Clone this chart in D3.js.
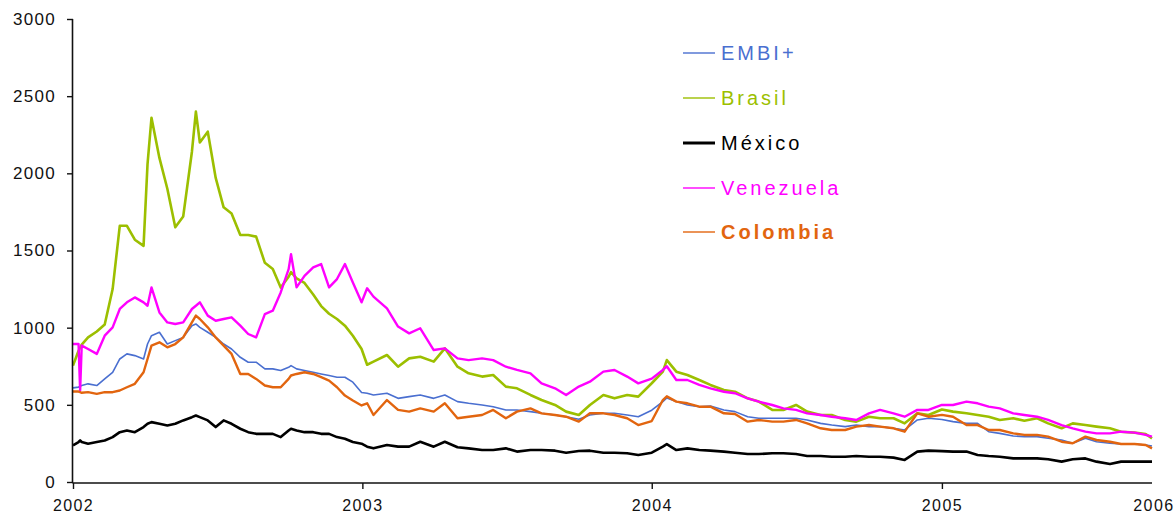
<!DOCTYPE html>
<html>
<head>
<meta charset="utf-8">
<script src="https://cdn.jsdelivr.net/npm/d3@7"></script>
<style>
  html, body { margin: 0; padding: 0; background: #ffffff; }
  svg { display: block; font-family: "Liberation Sans", Arial, sans-serif; }
</style>
</head>
<body>
<svg id="chart" width="1175" height="516"></svg>
<script>
// ---------- DATA ----------
const dates = [
  "2002-01-01","2002-01-08","2002-01-10","2002-01-12","2002-01-20","2002-01-31","2002-02-10","2002-02-20","2002-03-01","2002-03-10","2002-03-20","2002-03-31","2002-04-05","2002-04-10","2002-04-20","2002-04-30","2002-05-10","2002-05-20","2002-05-31","2002-06-05","2002-06-10","2002-06-20","2002-06-30","2002-07-10","2002-07-20","2002-07-31","2002-08-10","2002-08-20","2002-08-31","2002-09-10","2002-09-20","2002-09-30","2002-10-03","2002-10-10","2002-10-20","2002-10-31","2002-11-10","2002-11-20","2002-11-30","2002-12-10","2002-12-20","2002-12-31",
  "2003-01-07","2003-01-15","2003-02-01","2003-02-15","2003-03-01","2003-03-15","2003-04-01","2003-04-15","2003-05-01","2003-05-15","2003-06-01","2003-06-15","2003-07-01","2003-07-15","2003-08-01","2003-08-15","2003-09-01","2003-09-15","2003-10-01","2003-10-15","2003-11-01","2003-11-15","2003-12-01","2003-12-15",
  "2004-01-01","2004-01-15","2004-01-20","2004-02-01","2004-02-15","2004-03-01","2004-03-15","2004-04-01","2004-04-15","2004-05-01","2004-05-15","2004-06-01","2004-06-15","2004-07-01","2004-07-15","2004-08-01","2004-08-15","2004-09-01","2004-09-15","2004-10-01","2004-10-15","2004-11-01","2004-11-15","2004-12-01","2004-12-15",
  "2005-01-01","2005-01-15","2005-02-01","2005-02-15","2005-03-01","2005-03-15","2005-04-01","2005-04-15","2005-05-01","2005-05-15","2005-06-01","2005-06-15","2005-07-01","2005-07-15","2005-08-01","2005-08-15","2005-09-01","2005-09-15","2005-09-23"
];

const embi = [
  610,615,620,625,636,625,668,711,797,830,819,797,894,948,970,894,916,937,1013,1024,1002,970,937,894,862,808,776,776,733,733,722,743,754,733,722,711,700,690,679,679,647,580,
  575,564,575,542,553,564,542,564,521,510,499,488,467,467,456,445,434,423,406,434,445,445,434,423,
  465,521,545,521,499,488,492,467,456,423,413,413,413,413,402,380,369,359,369,359,359,348,337,402,413,
  405,391,380,380,326,315,298,294,294,283,272,251,283,261,251,246,246,240,233
];

const brasil = [
  754,850,870,890,937,975,1020,1250,1660,1660,1570,1530,2060,2360,2100,1900,1650,1720,2140,2400,2200,2270,1970,1780,1740,1600,1600,1590,1420,1380,1260,1330,1360,1320,1290,1215,1140,1090,1056,1013,948,862,
  760,780,823,747,801,812,780,866,747,704,683,693,618,607,564,531,499,456,434,499,564,542,564,553,
  640,715,790,715,693,661,629,596,585,542,521,467,467,499,456,434,434,402,391,423,413,413,380,445,434,
  470,456,445,434,423,402,413,397,413,380,348,380,369,359,348,326,320,311,283
];

const mexico = [
  237,259,269,259,248,259,269,291,323,334,323,356,377,388,377,366,377,399,420,431,420,399,356,399,377,345,323,312,312,312,291,334,345,334,323,323,312,312,291,280,259,248,
  229,218,240,229,229,261,229,261,225,218,207,207,218,197,207,207,203,190,201,203,190,190,186,175,
  190,229,245,207,218,207,203,197,190,181,181,186,186,181,168,168,164,164,168,164,164,158,143,197,203,
  200,197,197,175,168,164,153,153,153,147,132,147,153,132,117,132,132,132,132
];

const venezuela = [
  894,894,593,884,862,830,948,1002,1121,1164,1196,1164,1142,1261,1099,1034,1024,1034,1121,1142,1164,1078,1045,1056,1067,1013,959,937,1088,1110,1228,1379,1476,1261,1336,1390,1412,1261,1315,1412,1293,1164,
  1255,1201,1125,1007,963,996,855,866,801,790,801,790,747,726,704,639,607,564,618,650,715,726,683,639,
  670,726,750,661,661,629,607,585,575,542,521,499,477,467,445,434,423,413,402,445,467,445,423,467,467,
  499,499,521,510,488,477,445,434,423,402,369,348,326,315,315,326,320,305,294
];

const colombia = [
  586,586,582,578,582,571,582,582,593,614,636,711,797,884,905,873,894,937,1034,1078,1056,1002,937,884,830,700,700,668,625,614,614,668,690,700,711,700,679,657,614,560,528,496,
  510,434,531,467,456,477,456,510,413,423,434,467,413,456,477,445,434,423,391,445,445,434,413,369,
  395,531,555,521,510,488,488,445,441,391,402,391,391,402,380,348,337,337,359,369,359,348,326,445,423,
  435,423,369,369,337,337,315,305,305,294,261,251,294,272,261,246,246,240,218
];

const seriesNames = ["EMBI+", "Brasil", "México", "Venezuela", "Colombia"];
const seriesColors = ["#4a6fd0", "#9cbf00", "#000000", "#ff00ff", "#e2650f"];
const seriesWidths = [1.6, 2.6, 2.6, 2.4, 2.4];
const seriesValues = [embi, brasil, mexico, venezuela, colombia];

const yTicks = [0, 500, 1000, 1500, 2000, 2500, 3000];
const xTickDates = ["2002-01-01", "2003-01-01", "2004-01-01", "2005-01-01", "2005-09-23"];
const xTickLabels = ["2002", "2003", "2004", "2005", "2006"];

// ---------- DRAWING ----------
(function () {
  const parse = d3.timeParse("%Y-%m-%d");
  const dateObjs = dates.map(parse);

  const svg = d3.select("#chart");
  const pLeft = 73, pRight = 1152, pTop = 19, pBottom = 482;

  const x = d3.scaleTime()
    .domain([parse("2002-01-01"), parse("2005-09-23")])
    .range([pLeft, pRight]);
  const y = d3.scaleLinear().domain([0, 3000]).range([pBottom, pTop]);

  const line = d3.line()
    .x((d, i) => x(dateObjs[i]))
    .y(d => y(d))
    .curve(d3.curveLinear);

  const g = svg.append("g");
  seriesValues.forEach((vals, k) => {
    g.append("path")
      .datum(vals)
      .attr("d", line)
      .attr("fill", "none")
      .attr("stroke", seriesColors[k])
      .attr("stroke-width", seriesWidths[k])
      .attr("stroke-linejoin", "round");
  });

  // Y axis
  const yAxis = d3.axisLeft(y).tickValues(yTicks).tickSize(6).tickPadding(11).tickFormat(d3.format("d"));
  const gy = svg.append("g").attr("transform", `translate(${pLeft},0)`).call(yAxis);
  gy.select(".domain").attr("stroke", "#111").attr("stroke-width", 1.6).attr("d", `M-0.5,${pTop}V${pBottom + 1}`);
  gy.selectAll(".tick line").attr("stroke", "#111").attr("stroke-width", 1.4);
  gy.selectAll(".tick text")
    .attr("font-size", 17).attr("fill", "#111")
    .attr("font-family", "Liberation Sans, Arial, sans-serif")
    .style("letter-spacing", "1.3px");

  // X axis
  const xAxis = d3.axisBottom(x)
    .tickValues(xTickDates.map(parse))
    .tickSize(6).tickPadding(11)
    .tickFormat((d, i) => xTickLabels[i]);
  const gx = svg.append("g").attr("transform", `translate(0,${pBottom + 1})`).call(xAxis);
  gx.select(".domain").attr("stroke", "#111").attr("stroke-width", 1.6).attr("d", `M${pLeft - 0.5},0H${pRight}`);
  gx.selectAll(".tick line").attr("stroke", "#111").attr("stroke-width", 1.4)
    .attr("opacity", (d, i) => i === xTickLabels.length - 1 ? 0 : 1);
  gx.selectAll(".tick text")
    .attr("font-size", 16).attr("fill", "#111")
    .attr("font-family", "Liberation Sans, Arial, sans-serif")
    .style("letter-spacing", "1.4px")
    .attr("text-anchor", (d, i) => i === xTickLabels.length - 1 ? "end" : "middle")
    .attr("x", (d, i) => i === xTickLabels.length - 1 ? 22 : 0);

  // Legend
  const legendY = [53, 98, 143, 188, 232];
  const lg = svg.append("g");
  seriesNames.forEach((name, k) => {
    lg.append("line")
      .attr("x1", 683).attr("x2", 715)
      .attr("y1", legendY[k]).attr("y2", legendY[k])
      .attr("stroke", seriesColors[k])
      .attr("stroke-width", k === 2 ? 3 : 1.4);
    lg.append("text")
      .attr("x", 721).attr("y", legendY[k])
      .attr("dy", "0.36em")
      .attr("font-size", 20)
      .attr("font-weight", k === 4 ? "bold" : "normal")
      .attr("fill", seriesColors[k])
      .style("letter-spacing", "3px")
      .text(name);
  });
})();
</script>
</body>
</html>
